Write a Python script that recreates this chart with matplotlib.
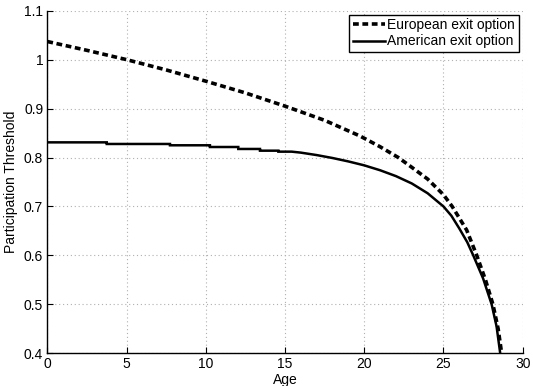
import matplotlib
matplotlib.use("Agg")
import matplotlib.pyplot as plt

plt.rcParams['font.family'] = ['Liberation Sans', 'DejaVu Sans']

# European exit option threshold
eu_age = [0, 2.5, 5, 7.5, 10, 12.5, 15, 17.5, 19.73, 21.0, 22.15, 23.0, 24.0,
          25.0, 25.55, 26.46, 27.1, 27.65, 28.12, 28.45, 28.67]
eu_thr = [1.037, 1.019, 1.000, 0.979, 0.956, 0.932, 0.905, 0.876, 0.844, 0.822,
          0.800, 0.780, 0.756, 0.724, 0.700, 0.652, 0.600, 0.550, 0.500, 0.450, 0.400]

# American exit option threshold (stepped at young ages)
am_age = [0, 3.75, 3.75, 7.74, 7.74, 10.26, 10.26, 12.05, 12.05, 13.42, 13.42,
          14.58, 14.58, 15.42, 16.0, 17.0, 18.0, 19.0, 20.0, 21.0, 22.0, 23.0,
          24.0, 25.0, 25.5, 26.0, 26.5, 26.88, 27.5, 28.04, 28.35, 28.58]
am_thr = [0.831, 0.831, 0.8277, 0.8277, 0.825, 0.825, 0.8215, 0.8215, 0.8175,
          0.8175, 0.814, 0.814, 0.812, 0.812, 0.810, 0.805, 0.799, 0.792, 0.784,
          0.774, 0.762, 0.747, 0.727, 0.700, 0.681, 0.655, 0.627, 0.600, 0.553,
          0.500, 0.455, 0.400]

xticks = [0, 5, 10, 15, 20, 25, 30]
yticks = [0.4, 0.5, 0.6, 0.7, 0.8, 0.9, 1.0, 1.1]
yticklabels = ['0.4', '0.5', '0.6', '0.7', '0.8', '0.9', '1', '1.1']

fig = plt.figure(figsize=(5.33, 3.86), dpi=100)
ax = fig.add_axes([0.0888, 0.0847, 0.8919, 0.8876])

ax.plot(eu_age, eu_thr, color='black', lw=2.6, linestyle=(0, (1.6, 1.0)),
        label='European exit option')
ax.plot(am_age, am_thr, color='black', lw=1.8, solid_joinstyle='miter',
        label='American exit option')

ax.set_xlim(0, 30)
ax.set_ylim(0.4, 1.1)
ax.set_xticks(xticks)
ax.set_xticklabels([str(t) for t in xticks])
ax.set_yticks(yticks)
ax.set_yticklabels(yticklabels)

ax.grid(True, color='#b0b0b0', linestyle=(0, (1, 2.5)), linewidth=0.8)
ax.tick_params(direction='in', length=4, width=0.8, labelsize=10, pad=3,
               colors='black')
for s in ['top', 'right']:
    ax.spines[s].set_visible(False)
for s in ['left', 'bottom']:
    ax.spines[s].set_linewidth(1.0)
    ax.spines[s].set_zorder(5)

ax.set_xlabel('Age', fontsize=10, labelpad=1)
ax.set_ylabel('Participation Threshold', fontsize=10, labelpad=4)

leg = ax.legend(loc='upper right', fontsize=10, frameon=True, fancybox=False,
                edgecolor='black', framealpha=1, borderpad=0.25,
                labelspacing=0.15, handlelength=2.3, handletextpad=0.2,
                borderaxespad=0.3)
leg.get_frame().set_linewidth(1.0)

fig.savefig('out.png', dpi=100)
